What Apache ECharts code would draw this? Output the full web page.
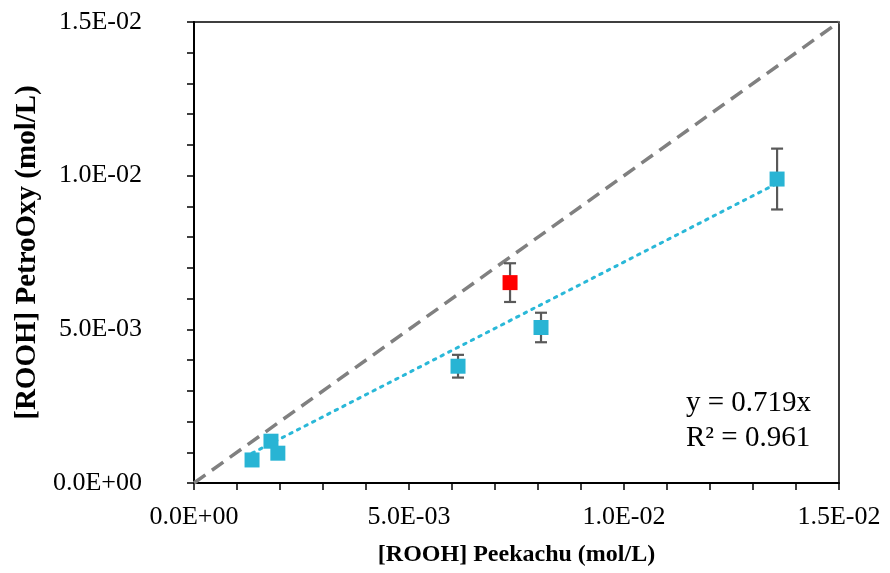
<!DOCTYPE html>
<html><head><meta charset="utf-8">
<script src="https://cdn.jsdelivr.net/npm/echarts@6/dist/echarts.min.js"></script>
<style>html,body{margin:0;padding:0;background:#fff}#c{width:890px;height:573px}</style>
</head><body><div id="c"></div>
<script>
// Data
var blueX = [0.00135, 0.00179, 0.00195, 0.00614, 0.00807, 0.01356];
var blueY = [0.00075, 0.00136, 0.00097, 0.00380, 0.00506, 0.00989];
var blueErr = [0.00010, 0.00010, 0.00010, 0.00037, 0.00048, 0.00099];
var redX = [0.00735];
var redY = [0.00652];
var redErr = [0.00063];
var trendX = [0.00135, 0.01356];
var trendY = [0.00097, 0.00975];
var identX = [0, 0.015];
var identY = [0, 0.015];
var axisTicks = [0, 0.005, 0.01, 0.015];
var eqLines = ['y = 0.719x', 'R² = 0.961'];

var font = 'Liberation Serif';
function fmt(v){
  if (v === 0) return '0.0E+00';
  var e = Math.floor(Math.log10(Math.abs(v)) + 1e-9);
  var m = v / Math.pow(10, e);
  var es = (e < 0 ? '-' : '+') + (Math.abs(e) < 10 ? '0' : '') + Math.abs(e);
  return m.toFixed(1) + 'E' + es;
}
function pairs(xs, ys){ return xs.map(function(x,i){ return [x, ys[i]]; }); }
function errData(xs, ys, es){ return xs.map(function(x,i){ return [x, ys[i]-es[i], ys[i]+es[i]]; }); }
function errRender(params, api){
  var x = api.value(0), lo = api.value(1), hi = api.value(2);
  var pLo = api.coord([x, lo]), pHi = api.coord([x, hi]);
  var hw = 6;
  var st = {stroke:'#595959', lineWidth:2.2, fill:null};
  return {type:'group', children:[
    {type:'line', shape:{x1:pLo[0], y1:pLo[1], x2:pHi[0], y2:pHi[1]}, style:st},
    {type:'line', shape:{x1:pLo[0]-hw, y1:pLo[1], x2:pLo[0]+hw, y2:pLo[1]}, style:st},
    {type:'line', shape:{x1:pHi[0]-hw, y1:pHi[1], x2:pHi[0]+hw, y2:pHi[1]}, style:st}
  ]};
}
var axisCommon = {
  type:'value', min:axisTicks[0], max:axisTicks[axisTicks.length-1], interval:axisTicks[1]-axisTicks[0],
  axisLine:{show:true, lineStyle:{color:'#000', width:2}},
  axisTick:{show:true, length:7, lineStyle:{color:'#000', width:1.5}},
  minorTick:{show:true, splitNumber:5, length:7, lineStyle:{color:'#000', width:1.5}},
  splitLine:{show:false},
  axisLabel:{fontFamily:font, fontSize:26, color:'#000', formatter:fmt, hideOverlap:false}
};
var chart = echarts.init(document.getElementById('c'));
chart.setOption({
  animation:false,
  grid:{left:194, top:22, right:51, bottom:90, containLabel:false, outerBoundsMode:'none',
        show:true, borderColor:'#000', borderWidth:1.5},
  xAxis: Object.assign({}, axisCommon, {
    name:'[ROOH] Peekachu (mol/L)', nameLocation:'middle', nameGap:60,
    nameTextStyle:{fontFamily:font, fontSize:24, fontWeight:'bold', color:'#000'},
    axisLabel:Object.assign({}, axisCommon.axisLabel, {margin:21})
  }),
  yAxis: Object.assign({}, axisCommon, {
    name:'[ROOH] PetroOxy (mol/L)', nameLocation:'middle', nameGap:151,
    nameTextStyle:{fontFamily:font, fontSize:29, fontWeight:'bold', color:'#000'},
    axisLabel:Object.assign({}, axisCommon.axisLabel, {margin:52})
  }),
  graphic:[
    {type:'text', left:686, top:389, style:{text:eqLines[0], font:'29px "Liberation Serif"', fill:'#000'}},
    {type:'text', left:686, top:424, style:{text:eqLines[1], font:'29px "Liberation Serif"', fill:'#000'}}
  ],
  series:[
    {type:'line', data:pairs(identX, identY), showSymbol:false, symbol:'none', silent:true,
     lineStyle:{color:'#808080', width:3.5, type:[14,8]}, z:1},
    {type:'line', data:pairs(trendX, trendY), showSymbol:false, symbol:'none', silent:true,
     lineStyle:{color:'#2ab8d8', width:3, type:[2.5,6], cap:'round'}, z:2},
    {type:'custom', renderItem:errRender, data:errData(blueX, blueY, blueErr), z:3, encode:{x:0, y:[1,2]}},
    {type:'custom', renderItem:errRender, data:errData(redX, redY, redErr), z:3, encode:{x:0, y:[1,2]}},
    {type:'scatter', data:pairs(blueX, blueY), symbol:'rect', symbolSize:15,
     itemStyle:{color:'#28b4d4', opacity:1}, z:4},
    {type:'scatter', data:pairs(redX, redY), symbol:'rect', symbolSize:15,
     itemStyle:{color:'#ff0000', opacity:1}, z:4}
  ]
});
</script></body></html>
